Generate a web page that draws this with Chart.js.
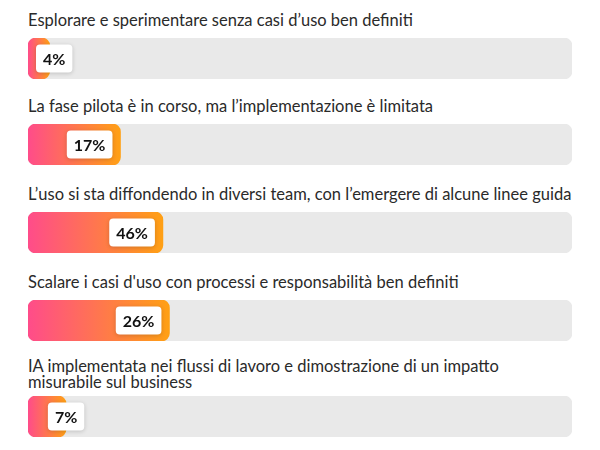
<!DOCTYPE html>
<html>
<head>
<meta charset="utf-8">
<script src="https://cdn.jsdelivr.net/npm/chart.js@4.4.1/dist/chart.umd.min.js"></script>
<style>
  html, body { margin: 0; padding: 0; background: #ffffff; }
  #root { position: relative; width: 600px; height: 450px; overflow: hidden; }
  .lbl { position: absolute; left: 28px; width: 560px; font-family: Lato, "Open Sans", sans-serif;
         font-size: 16.5px; line-height: 16px; color: #2a2a2a; white-space: pre-line; }
  .bar { position: absolute; left: 28px; width: 544px; height: 41px; }
</style>
</head>
<body>
<div id="root"></div>
<script>
// ---- data ----
const categories = [
  "Esplorare e sperimentare senza casi d\u2019uso ben definiti",
  "La fase pilota \u00e8 in corso, ma l\u2019implementazione \u00e8 limitata",
  "L\u2019uso si sta diffondendo in diversi team, con l\u2019emergere di alcune linee guida",
  "Scalare i casi d'uso con processi e responsabilit\u00e0 ben definiti",
  "IA implementata nei flussi di lavoro e dimostrazione di un impatto\nmisurabile sul business"
];
// bar lengths as drawn in the picture (percent of the track)
const barValues = [4, 17, 24.8, 26, 7];
// values printed on the labels
const labelValues = [4, 17, 46, 26, 7];
const trackMax = [100, 100, 100, 100, 100];

// ---- layout ----
const trackTops = [38, 124, 212, 300, 396];
const labelGaps = [10, 10, 10, 10, 6];

const root = document.getElementById('root');

const labelBoxPlugin = {
  id: 'labelBox',
  afterDatasetsDraw(chart, args, opts) {
    const meta = chart.getDatasetMeta(0);
    const el = meta.data[0];
    if (!el) return;
    const ctx = chart.ctx;
    const text = opts.text;
    ctx.save();
    ctx.font = 'bold 16px Lato, "Open Sans", sans-serif';
    const tw = ctx.measureText(text).width;
    const w = tw + 14, h = 28;
    const left0 = chart.chartArea.left;
    const end = el.x;
    let x = end - 8 - w;
    if (x < left0 + 8) x = Math.max(end - w / 2, left0 + 8);
    const y = el.y - h / 2;
    ctx.shadowColor = 'rgba(0,0,0,0.18)';
    ctx.shadowBlur = 4;
    ctx.shadowOffsetY = 1;
    ctx.fillStyle = '#ffffff';
    ctx.beginPath();
    ctx.roundRect(x, y, w, h, 4);
    ctx.fill();
    ctx.shadowColor = 'transparent';
    ctx.fillStyle = '#111111';
    ctx.textAlign = 'center';
    ctx.textBaseline = 'middle';
    ctx.fillText(text, x + w / 2, el.y + 1);
    ctx.restore();
  }
};

categories.forEach((cat, i) => {
  const lines = cat.split('\n').length;
  const lbl = document.createElement('div');
  lbl.className = 'lbl';
  lbl.textContent = cat;
  lbl.style.top = (trackTops[i] - labelGaps[i] - lines * 16) + 'px';
  root.appendChild(lbl);

  const wrap = document.createElement('div');
  wrap.className = 'bar';
  wrap.style.top = trackTops[i] + 'px';
  const cv = document.createElement('canvas');
  wrap.appendChild(cv);
  root.appendChild(wrap);

  new Chart(cv, {
    type: 'bar',
    data: {
      labels: [cat],
      datasets: [
        {
          data: [barValues[i]],
          grouped: false,
          order: 0,
          borderRadius: 8,
          borderSkipped: false,
          categoryPercentage: 1,
          barPercentage: 1,
          backgroundColor: (c) => {
            const chart = c.chart;
            if (!chart.chartArea) return '#ff7a50';
            const xs = chart.scales.x;
            const x0 = xs.getPixelForValue(0);
            const x1 = xs.getPixelForValue(barValues[i]);
            const g = chart.ctx.createLinearGradient(x0, 0, x1, 0);
            g.addColorStop(0, '#ff4c8a');
            g.addColorStop(1, '#ffa014');
            return g;
          }
        },
        {
          data: [trackMax[i]],
          grouped: false,
          order: 1,
          borderRadius: 8,
          borderSkipped: false,
          categoryPercentage: 1,
          barPercentage: 1,
          backgroundColor: '#e9e9e9'
        }
      ]
    },
    options: {
      indexAxis: 'y',
      responsive: true,
      maintainAspectRatio: false,
      animation: false,
      layout: { padding: 0 },
      scales: {
        x: { display: false, min: 0, max: 100 },
        y: { display: false }
      },
      plugins: {
        legend: { display: false },
        tooltip: { enabled: false },
        labelBox: { text: labelValues[i] + '%' }
      }
    },
    plugins: [labelBoxPlugin]
  });
});
</script>
</body>
</html>
